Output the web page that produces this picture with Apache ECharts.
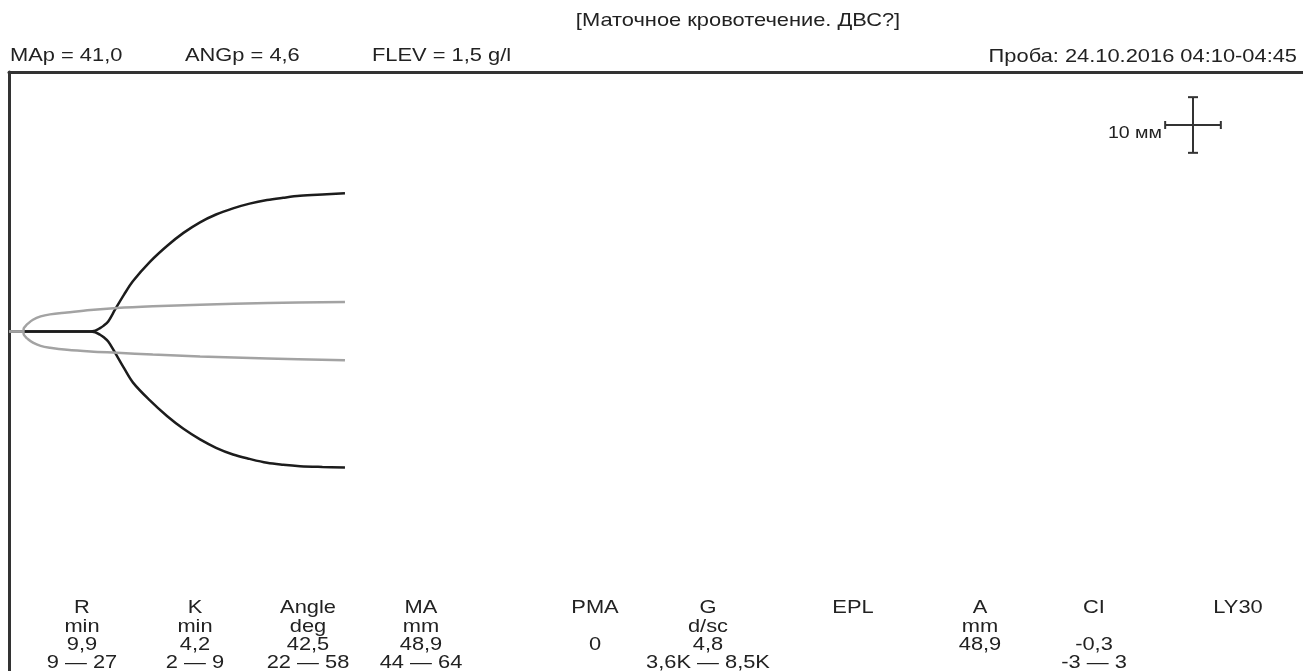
<!DOCTYPE html>
<html><head><meta charset="utf-8">
<script src="https://cdn.jsdelivr.net/npm/echarts@6/dist/echarts.min.js"></script>
<style>html,body{margin:0;padding:0;background:#fff}#c{width:1303px;height:671px}</style>
</head><body><div id="c"></div>
<script>
// ---- data (time in minutes, amplitude in mm) ----
const blackUpper = [[0,0],[8.4,0],[9.0,0.15],[9.5,0.6],[9.85,1.0],[10.35,1.8],[11.06,3.9],[12.0,6.6],[12.94,9.05],[14.7,12.5],[16.48,15.35],[18.2,17.7],[19.93,19.6],[21.6,21.0],[23.37,22.1],[25.1,22.95],[26.92,23.6],[28.6,24.0],[30.36,24.35],[32.7,24.6],[35.05,24.8]];
const blackLower = [[0,0],[8.4,0],[9.0,-0.15],[9.5,-0.6],[9.85,-1.0],[10.35,-1.8],[11.06,-3.8],[12.0,-6.6],[12.94,-9.2],[14.7,-12.4],[16.48,-15.2],[18.2,-17.5],[19.93,-19.4],[21.6,-20.9],[23.37,-22.1],[25.1,-22.9],[26.92,-23.6],[28.6,-23.95],[30.36,-24.2],[32.7,-24.35],[35.05,-24.45]];
const grayUpper = [[0,0],[1.46,0],[1.55,0.6],[1.75,1.0],[1.88,1.26],[2.5,2.1],[3.3,2.7],[4.28,3.06],[6.05,3.4],[8.5,3.85],[11.27,4.2],[15,4.5],[19.93,4.8],[27,5.1],[35.05,5.3]];
const grayLower = [[0,0],[1.46,0],[1.55,-0.6],[1.75,-1.0],[1.88,-1.25],[2.5,-2.03],[3.3,-2.6],[4.28,-2.93],[6.05,-3.3],[8.5,-3.6],[11.27,-3.83],[15,-4.15],[19.93,-4.5],[27,-4.85],[35.05,-5.2]];

const titleText = '[Маточное кровотечение. ДВС?]';
const headerItems = ['MAp = 41,0', 'ANGp = 4,6', 'FLEV = 1,5 g/l'];
const sampleText = 'Проба: 24.10.2016 04:10-04:45';
const scaleLabel = '10 мм';
const scaleMm = 10;

const paramNames  = ['R','K','Angle','MA','PMA','G','EPL','A','CI','LY30'];
const paramUnits  = ['min','min','deg','mm','','d/sc','','mm','',''];
const paramValues = ['9,9','4,2','42,5','48,9','0','4,8','','48,9','-0,3',''];
const paramRanges = ['9 — 27','2 — 9','22 — 58','44 — 64','','3,6K — 8,5K','','','-3 — 3',''];

// ---- layout ----
const colX = [82,195,308,421,595,708,853,980,1094,1238];
const rowY = [608,627,645,663];
const headerX = [10,185,372];
const FONT = '"Liberation Sans", Arial, sans-serif';
const TXT = '#222';
const FS = 19;
const SX = 1.15;

const chart = echarts.init(document.getElementById('c'));

function txt(x, y, s, align, size) {
  return { type:'text', x:x, y:y, scaleX:SX, silent:true,
    style:{ text:s, fill:TXT, font:(size||FS)+'px '+FONT, textAlign:align||'left', textVerticalAlign:'middle' } };
}

const graphics = [];
graphics.push(txt(738, 21, titleText, 'center'));
headerItems.forEach((s,i)=>graphics.push(txt(headerX[i], 56, s, 'left')));
graphics.push(txt(1297, 57, sampleText, 'right'));
const rows = [paramNames, paramUnits, paramValues, paramRanges];
rows.forEach((row, r) => row.forEach((s, i) => { if (s) graphics.push(txt(colX[i], rowY[r], s, 'center')); }));

const lineSeries = (data, color) => ({
  type:'line', data:data, showSymbol:false, smooth:0.35,
  lineStyle:{ color:color, width:2.5 }, silent:true, animation:false
});

chart.setOption({
  animation:false,
  grid:{ left:9, right:0, top:72, bottom:0 },
  xAxis:{ type:'value', min:0, max:135, position:'top',
    axisLine:{ show:true, onZero:false, lineStyle:{ color:'#333', width:3 } },
    axisTick:{show:false}, axisLabel:{show:false}, splitLine:{show:false} },
  yAxis:{ type:'value', min:-61, max:46.6,
    axisLine:{ show:true, onZero:false, lineStyle:{ color:'#333', width:3 } },
    axisTick:{show:false}, axisLabel:{show:false}, splitLine:{show:false} },
  series:[
    lineSeries(blackUpper, '#1c1c1c'),
    lineSeries(blackLower, '#1c1c1c'),
    lineSeries(grayUpper, '#a3a3a3'),
    lineSeries(grayLower, '#a3a3a3')
  ],
  graphic: graphics
});

// scale cross, length = 10 mm in amplitude units
const y0 = chart.convertToPixel({yAxisIndex:0}, 0);
const y1 = chart.convertToPixel({yAxisIndex:0}, scaleMm);
const L = Math.abs(y0 - y1);
const cx = 1193, cy = 125;
const ls = { stroke:'#333', lineWidth:2 };
const cross = [
  { type:'line', shape:{x1:cx-L/2, y1:cy, x2:cx+L/2, y2:cy}, style:ls },
  { type:'line', shape:{x1:cx-L/2, y1:cy-4, x2:cx-L/2, y2:cy+4}, style:ls },
  { type:'line', shape:{x1:cx+L/2, y1:cy-4, x2:cx+L/2, y2:cy+4}, style:ls },
  { type:'line', shape:{x1:cx, y1:cy-L/2, x2:cx, y2:cy+L/2}, style:ls },
  { type:'line', shape:{x1:cx-5, y1:cy-L/2, x2:cx+5, y2:cy-L/2}, style:ls },
  { type:'line', shape:{x1:cx-5, y1:cy+L/2, x2:cx+5, y2:cy+L/2}, style:ls },
  txt(1162, 133, scaleLabel, 'right', 17)
];
chart.setOption({ graphic: graphics.concat(cross) });
</script></body></html>
